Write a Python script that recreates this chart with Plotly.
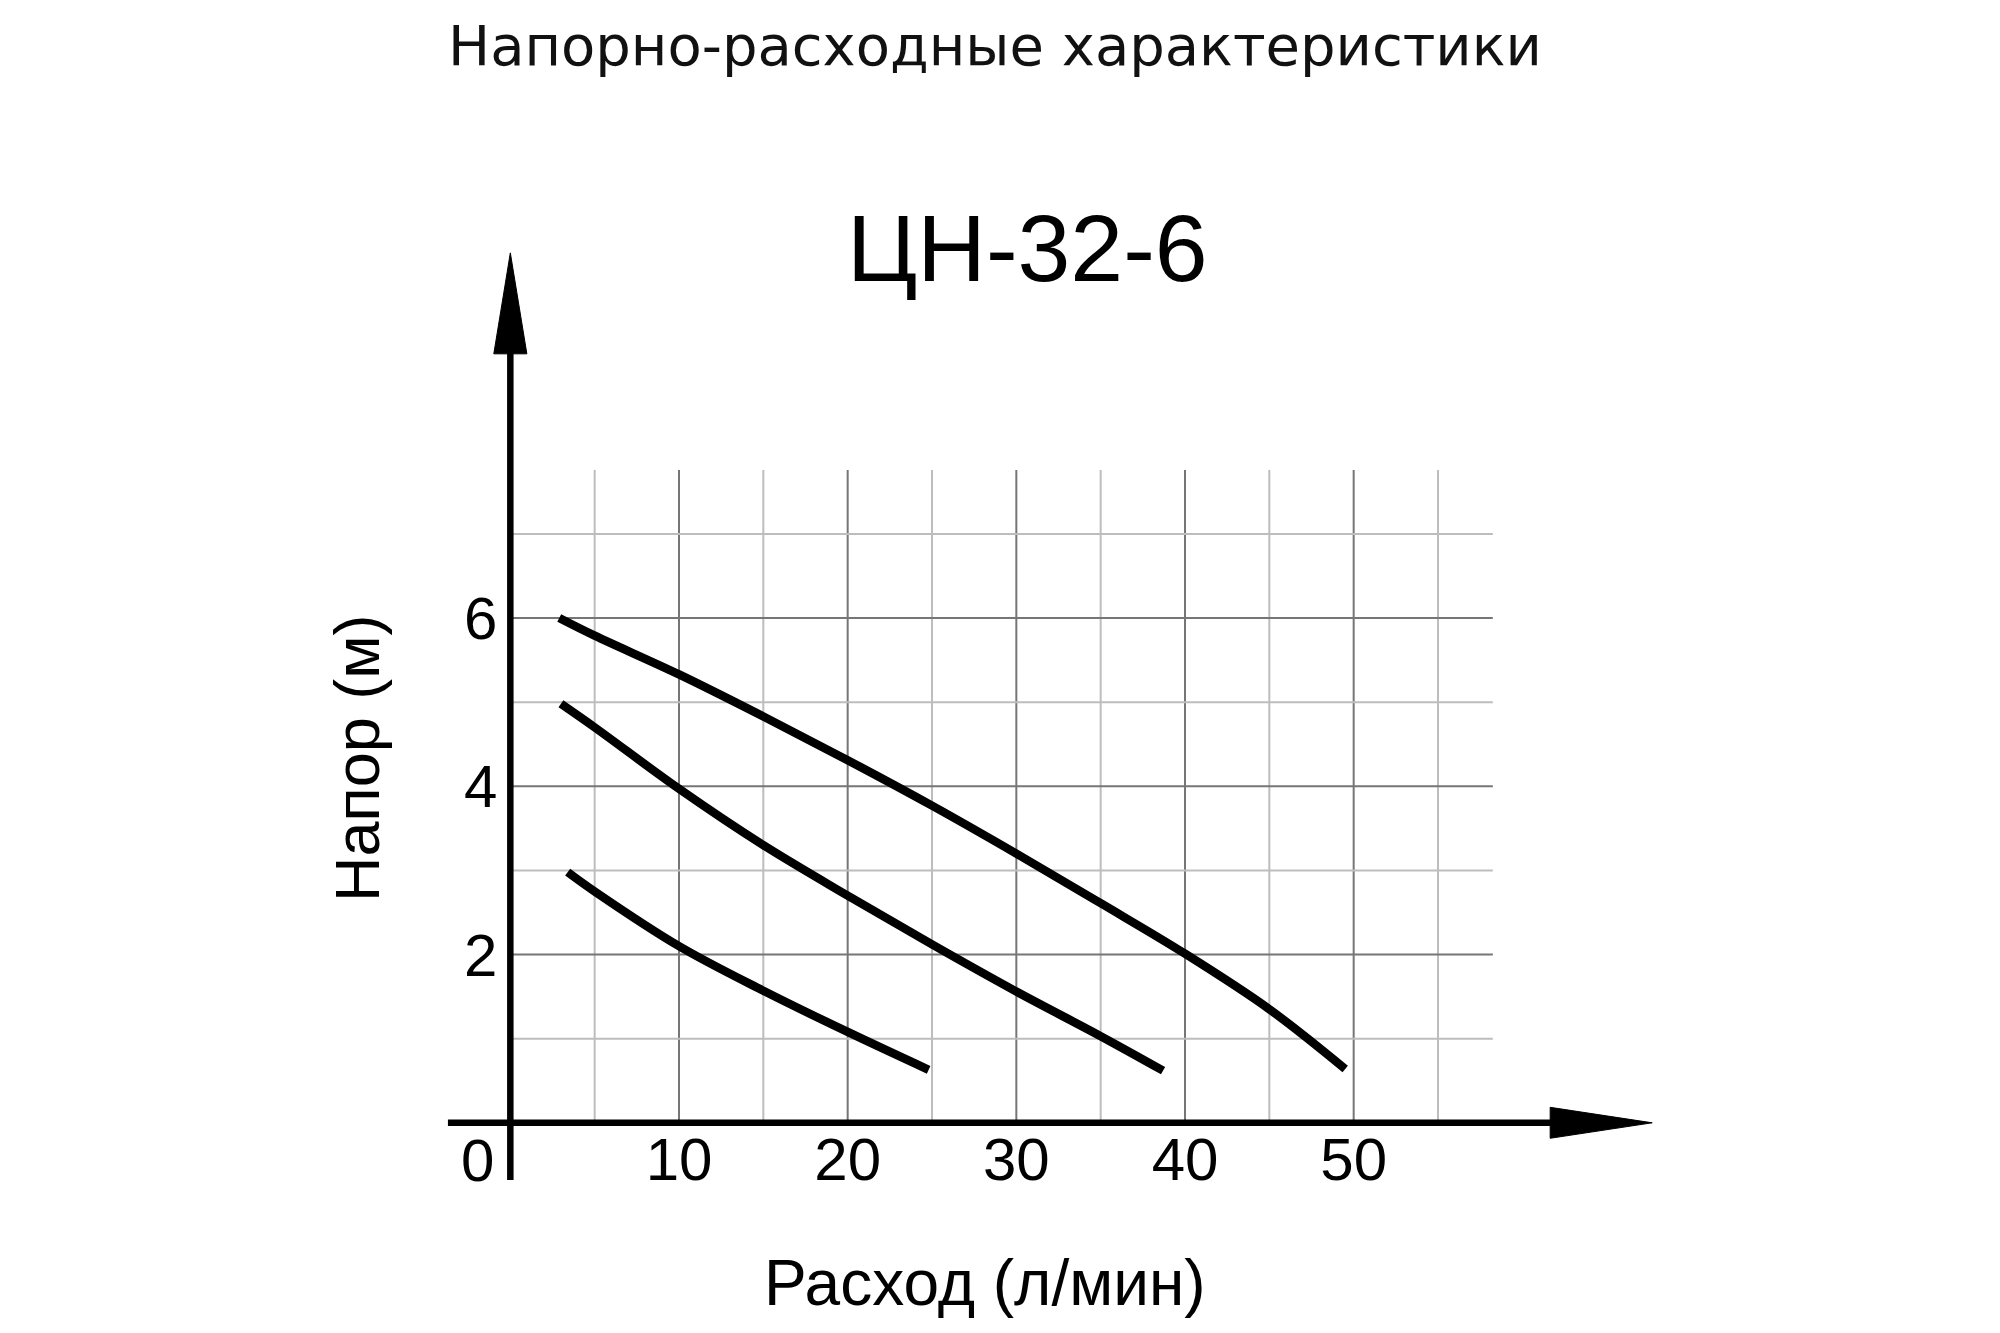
import plotly.graph_objects as go

# ── Data ──
flow_ticks = [10, 20, 30, 40, 50]
head_ticks = [2, 4, 6]
grid_x = [5, 10, 15, 20, 25, 30, 35, 40, 45, 50, 55]
grid_y = [1, 2, 3, 4, 5, 6, 7]

q_speed3 = [2.9, 5, 10, 15, 20, 25, 30, 35, 40, 45, 49.5]
h_speed3 = [6.0, 5.79, 5.33, 4.83, 4.31, 3.77, 3.20, 2.61, 2.01, 1.35, 0.64]

q_speed2 = [3.0, 5, 10, 15, 20, 25, 30, 35, 38.7]
h_speed2 = [4.98, 4.70, 3.97, 3.30, 2.70, 2.12, 1.56, 1.03, 0.62]

q_speed1 = [3.4, 5, 10, 15, 20, 24.8]
h_speed1 = [2.98, 2.75, 2.10, 1.57, 1.08, 0.63]

# ── Geometry of the drawing ──
X_RANGE = [-5, 70]
Y_RANGE = [-1.5, 10.6]
GRID_X_END = 58.25
GRID_Y_END = 7.76
PAGE_OFFSET = 8  # body margin of the html page
W, H = 1992, 1325
L, R, T, B = 418, 309, 223, 84
PW, PH = W - L - R, H - T - B


def px(x):
    return (x - PAGE_OFFSET - L) / PW


def py(y):
    return (H - B - (y - PAGE_OFFSET)) / PH


FONT = "Liberation Sans, Arial, sans-serif"

fig = go.Figure()

for q, h in [(q_speed3, h_speed3), (q_speed2, h_speed2), (q_speed1, h_speed1)]:
    fig.add_trace(go.Scatter(
        x=q, y=h, mode='lines', line=dict(color='black', width=8.5, shape='spline', smoothing=1.0),
        hoverinfo='skip', showlegend=False
    ))

shapes = []

# ── Grid ──
for gx in grid_x:
    major = gx % 10 == 0
    shapes.append(dict(type='line', xref='x', yref='y', x0=gx, x1=gx, y0=0, y1=GRID_Y_END,
                       line=dict(color='#767676' if major else '#bdbdbd', width=2), layer='below'))
for gy in grid_y:
    major = gy % 2 == 0
    shapes.append(dict(type='line', xref='x', yref='y', x0=0, x1=GRID_X_END, y0=gy, y1=gy,
                       line=dict(color='#767676' if major else '#bdbdbd', width=2), layer='below'))

# ── Axes with arrows ──
shapes.append(dict(type='line', xref='x', yref='y', x0=-3.7, x1=61.9, y0=0, y1=0,
                   line=dict(color='black', width=6.5)))
shapes.append(dict(type='line', xref='x', yref='y', x0=0, x1=0, y0=-0.68, y1=9.3,
                   line=dict(color='black', width=6.5)))
shapes.append(dict(type='path', xref='x', yref='y',
                   path="M -0.98 9.14 L 0 10.34 L 0.98 9.14 Z",
                   fillcolor='black', line=dict(color='black', width=1)))
shapes.append(dict(type='path', xref='x', yref='y',
                   path="M 61.65 -0.184 L 67.7 0 L 61.65 0.184 Z",
                   fillcolor='black', line=dict(color='black', width=1)))

annotations = [
    dict(text="ЦН-32-6", x=px(1027), y=py(248), xref='paper', yref='paper',
         showarrow=False, xanchor='center', yanchor='middle',
         font=dict(family=FONT, size=95, color='black')),
    dict(text="Расход (л/мин)", x=px(985), y=py(1283), xref='paper', yref='paper',
         showarrow=False, xanchor='center', yanchor='middle',
         font=dict(family=FONT, size=64, color='black')),
    dict(text="Напор (м)", x=px(357), y=py(758), xref='paper', yref='paper',
         showarrow=False, xanchor='center', yanchor='middle', textangle=-90,
         font=dict(family=FONT, size=63, color='black')),
    dict(text="0", x=0, y=0, xref='x', yref='y', showarrow=False,
         xanchor='right', yanchor='middle', xshift=-14, yshift=-38,
         font=dict(family=FONT, size=60, color='black')),
]

fig.update_layout(
    width=W, height=H,
    margin=dict(l=L, r=R, t=T, b=B),
    paper_bgcolor='white', plot_bgcolor='white',
    title=dict(text="Напорно-расходные характеристики",
               x=(995 - PAGE_OFFSET) / W, y=1 - (45 - PAGE_OFFSET) / H,
               xref='container', yref='container', xanchor='center', yanchor='middle',
               font=dict(family="DejaVu Sans, sans-serif", size=56, color='#111')),
    xaxis=dict(range=X_RANGE, showgrid=False, zeroline=False, showline=False,
               anchor='free', position=(0 - Y_RANGE[0]) / (Y_RANGE[1] - Y_RANGE[0]),
               tickvals=flow_ticks, ticks='', ticklabelstandoff=-4,
               tickfont=dict(family=FONT, size=60, color='black'), fixedrange=True),
    yaxis=dict(range=Y_RANGE, showgrid=False, zeroline=False, showline=False,
               anchor='free', position=(0 - X_RANGE[0]) / (X_RANGE[1] - X_RANGE[0]),
               tickvals=head_ticks, ticks='', ticklabelstandoff=13,
               tickfont=dict(family=FONT, size=60, color='black'), fixedrange=True),
    shapes=shapes,
    annotations=annotations,
    showlegend=False,
)

fig.write_html("out.html")
